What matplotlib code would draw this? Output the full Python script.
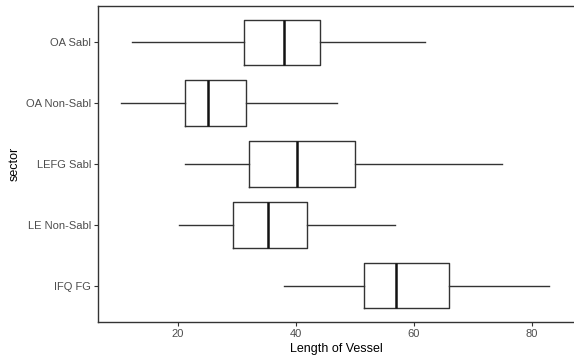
import matplotlib.pyplot as plt

plt.rcParams['font.family'] = ['Liberation Sans', 'DejaVu Sans']

# Box statistics (bottom to top in plot order)
sectors = ["IFQ FG", "LE Non-Sabl", "LEFG Sabl", "OA Non-Sabl", "OA Sabl"]
whisker_low = [38.0, 20.2, 21.2, 10.3, 12.1]
q1 = [51.6, 29.4, 32.1, 21.1, 31.1]
median = [56.9, 35.2, 40.1, 25.1, 38.0]
q3 = [66.0, 41.9, 50.0, 31.6, 44.1]
whisker_high = [82.9, 56.8, 74.9, 47.0, 61.9]
x_ticks = [20, 40, 60, 80]

stats = []
for i, name in enumerate(sectors):
    stats.append({"label": name, "whislo": whisker_low[i], "q1": q1[i],
                  "med": median[i], "q3": q3[i], "whishi": whisker_high[i],
                  "fliers": []})

fig = plt.figure(figsize=(5.74, 3.58), dpi=100)
ax = fig.add_axes([98 / 574, 36 / 358, 476 / 574, 316 / 358])

ax.bxp(stats, positions=range(1, len(sectors) + 1), vert=False, widths=0.75,
       showcaps=False,
       boxprops=dict(color="#333333", linewidth=1.0),
       whiskerprops=dict(color="#333333", linewidth=1.0),
       medianprops=dict(color="#111111", linewidth=1.8))

ax.set_xlim(6.4, 87.2)
ax.set_ylim(0.4, 5.6)
ax.set_xticks(x_ticks)
ax.set_yticks(range(1, len(sectors) + 1))
ax.set_yticklabels(sectors)

for s in ax.spines.values():
    s.set_color("#333333")
    s.set_linewidth(1.0)
# panel is cut off at the right edge in the original
ax.spines["right"].set_visible(False)

ax.tick_params(axis="both", colors="#333333", labelcolor="#4d4d4d",
               labelsize=8, length=3, width=0.8, pad=2)

ax.set_xlabel("Length of Vessel", fontsize=9, color="black", labelpad=3)
ax.set_ylabel("sector", fontsize=9, color="black", labelpad=4)

fig.savefig("out.png", dpi=100)
